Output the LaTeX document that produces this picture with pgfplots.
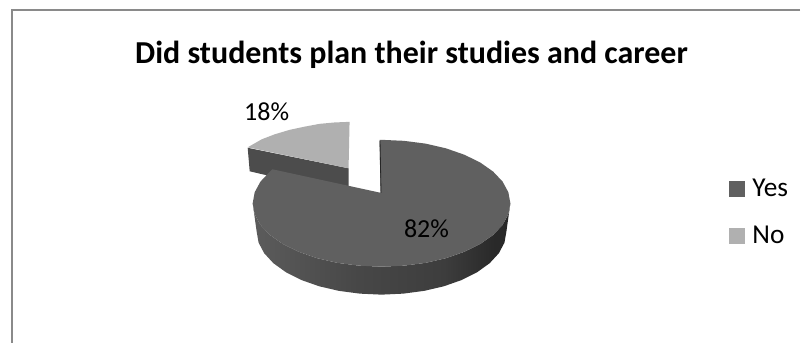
\documentclass[border=0pt]{standalone}
\usepackage{pgfplots}
\pgfplotsset{compat=1.18}
\usepackage{fontspec}
\setmainfont{Carlito}
\definecolor{yesface}{HTML}{606060}
\definecolor{noface}{HTML}{B0B0B0}
\definecolor{noside}{HTML}{4C4C4C}
\definecolor{framegray}{HTML}{8A8A8A}
% Side wall of the large slice: lit on the left, dark on the right
\pgfdeclarehorizontalshading{sidewall}{100bp}{
  color(0bp)=(black!64); color(25bp)=(black!64); color(45bp)=(black!72);
  color(62bp)=(black!76); color(72bp)=(black!84); color(100bp)=(black!86)}
\begin{document}
\begin{tikzpicture}
\begin{axis}[
  scale only axis, width=600.75pt, height=257.25pt,
  xmin=0, xmax=801, ymin=0, ymax=343, y dir=reverse,
  hide axis, clip=false,
  legend style={at={(axis cs:731,188)}, anchor=north west, yshift=11pt, xshift=-4pt,
    draw=none, fill=none, font=\fontsize{20.5}{20.5}\selectfont,
    row sep=16.6pt, /tikz/every odd column/.append style={column sep=4pt}},
  legend cell align=left,
  legend image code/.code={\fill[#1] (0pt,-5.6pt) rectangle (11.2pt,5.6pt);},
]
% Full canvas, so the page keeps its size
\path[fill=white] (axis cs:0,0) rectangle (axis cs:801,343);

\addlegendimage{yesface}
\addlegendentry{Yes}
\addlegendimage{noface}
\addlegendentry{No}

% Chart frame, top and left edges
\addplot[forget plot, draw=framegray, line width=1.5pt] coordinates {(801,10) (12,10) (12,343)};

% Detached slice, No: outer side, then top face
\addplot[forget plot, fill=noside, draw=none] coordinates {
  (248,148) (250,171.5) (265,175) (349,193) (349,168.5)} -- cycle;
\addplot[forget plot, fill=noface, draw=none] coordinates {
  (350,122) (335,122.6) (320,124) (305,126.8) (290,130) (275,134.5) (262,139.5) (248,147.5) (349,168.5)} -- cycle;

% Large slice, Yes: side wall
\addplot[forget plot, shading=sidewall, draw=none] coordinates {
  (511,203.5) (509,214.5) (503.2,225.2) (493.7,235.25) (480.8,244.3) (464.9,252.1)
  (446.5,258.5) (426.1,263.2) (404.4,266) (382,267) (359.6,266) (337.9,263.2)
  (317.5,258.5) (299.1,252.1) (283.2,244.3) (270.3,235.25) (260.8,225.2) (255,214.5) (253,203.5)
  (257,232) (258.9,242.9) (264.5,253.5) (273.7,263.5) (286.2,272.5) (301.6,280.3)
  (319.5,286.6) (339.2,291.2) (360.3,294) (382,295) (403.7,294) (424.8,291.2)
  (444.5,286.6) (462.4,280.3) (477.8,272.5) (490.3,263.5) (499.5,253.5) (505.1,242.9) (507,232)} -- cycle;

% Large slice: top face
\addplot[forget plot, fill=yesface, draw=none] coordinates {
  (380,140) (382,140) (404.4,141) (426.1,143.8) (446.5,148.5) (464.9,154.9) (480.8,162.7)
  (493.7,171.75) (503.2,181.8) (509,192.5) (511,203.5) (509,214.5) (503.2,225.2)
  (493.7,235.25) (480.8,244.3) (464.9,252.1) (446.5,258.5) (426.1,263.2) (404.4,266)
  (382,267) (359.6,266) (337.9,263.2) (317.5,258.5) (299.1,252.1) (283.2,244.3)
  (270.3,235.25) (260.8,225.2) (255,214.5) (253,203.5) (255,192.5) (260.8,181.8)
  (270.3,171.75) (272.8,169.5) (381,193)} -- cycle;
% Thin cut face along the opening of the large slice
\addplot[forget plot, draw=black!85, line width=0.6pt] coordinates {(380.5,141) (381.5,193)};

\node[font=\bfseries\fontsize{24}{24}\selectfont, anchor=center] at (axis cs:412,55) {Did students plan their studies and career};
\node[font=\fontsize{19.5}{19.5}\selectfont, anchor=center] at (axis cs:267,112) {18\%};
\node[font=\fontsize{19.5}{19.5}\selectfont, anchor=center] at (axis cs:427,229) {82\%};
\end{axis}
\end{tikzpicture}
\end{document}
